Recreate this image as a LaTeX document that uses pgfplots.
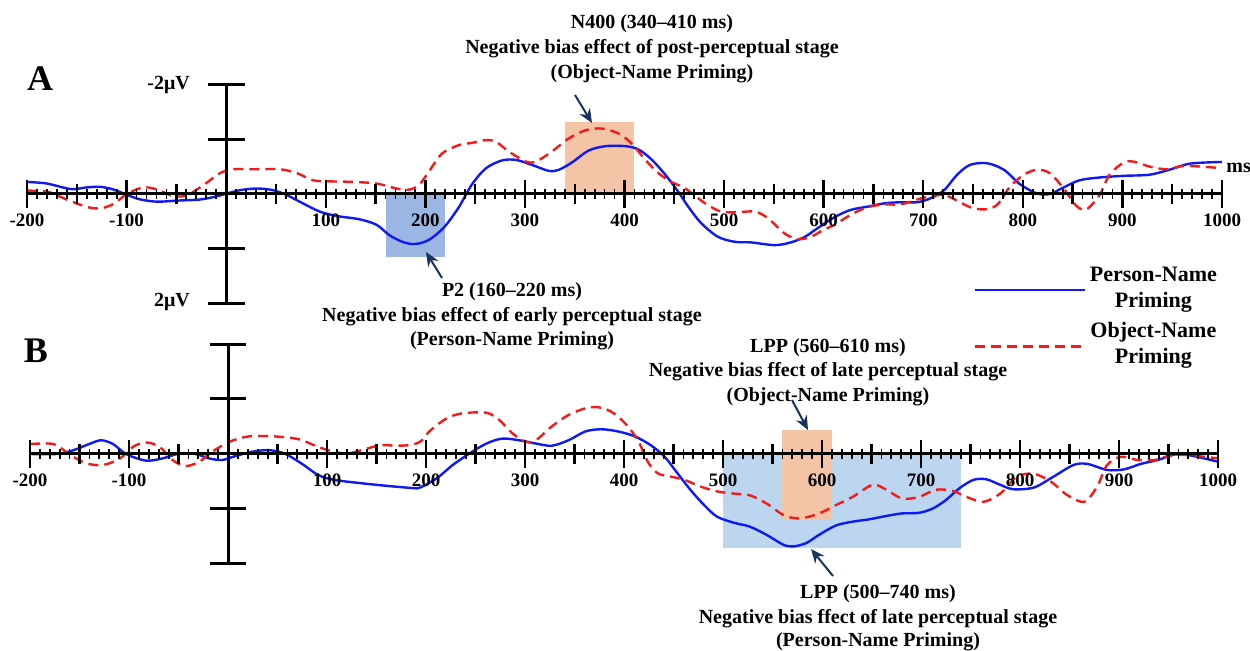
\documentclass[border=0pt]{standalone}
\usepackage{fontspec}
\setmainfont{Liberation Serif}
\usepackage{pgfplots}
\pgfplotsset{compat=1.18}
\usetikzlibrary{arrows.meta}
\definecolor{erpBlue}{RGB}{15,25,245}
\definecolor{erpRed}{RGB}{245,25,25}
\definecolor{boxOrange}{RGB}{245,196,166}
\definecolor{boxBlueA}{RGB}{155,182,226}
\definecolor{boxBlueB}{RGB}{188,214,240}
\definecolor{arrowNavy}{RGB}{25,50,95}

\pgfplotsset{
  erp/.style={
    scale only axis, height=110pt,
    xmin=-200, xmax=1000, ymin=-2, ymax=2, y dir=reverse,
    axis lines=middle, axis line style={-, line width=1.5pt},
    enlargelimits=false, clip=false, axis on top,
    xtick={-200,-100,100,200,300,400,500,600,700,800,900,1000},
    minor xtick={-200,-190,...,1000},
    extra x ticks={-150,-50,50,150,250,350,450,550,650,750,850,950},
    extra x tick labels={},
    extra x tick style={major tick length=10pt},
    ytick=\empty,
    tick align=center,
    major tick length=14pt, minor tick length=5pt,
    tick style={black, line width=1.2pt},
    minor tick style={line width=0.9pt},
    xticklabel style={font=\fontsize{9.5}{11}\selectfont\bfseries, yshift=0.5pt},
    /pgf/number format/assume math mode=true,
    /pgf/number format/1000 sep={},
  },
  person/.style={erpBlue, line width=1.2pt, smooth},
  object/.style={erpRed, line width=1.2pt, smooth, dash pattern=on 5pt off 3pt},
}

\begin{document}
\begin{tikzpicture}

% panel A
\begin{axis}[erp, at={(13.5pt,-152pt)}, anchor=south west, width=597.5pt,
  legend style={draw=none, fill=none, at={(axis cs:744,1.1)}, anchor=north west,
    font=\fontsize{11}{13}\selectfont\bfseries, row sep=7pt},
  legend cell align=center,
  legend image code/.code={\draw[#1] (0pt,-5pt) -- (55pt,-5pt);},
]
  \fill[boxBlueA] (axis cs:160,0) rectangle (axis cs:220,1.15);
  \fill[boxOrange] (axis cs:340,-1.31) rectangle (axis cs:410,0);
  \draw[line width=1.5pt] (axis cs:-18.5,-2) -- (axis cs:18.5,-2);
  \draw[line width=1.5pt] (axis cs:-18.5,-1) -- (axis cs:18.5,-1);
  \draw[line width=1.5pt] (axis cs:-18.5,1) -- (axis cs:18.5,1);
  \draw[line width=1.5pt] (axis cs:-18.5,2) -- (axis cs:18.5,2);
  \addplot[person] coordinates {
    (-200,-0.22) (-180,-0.19) (-156,-0.09) (-140,-0.12) (-126,-0.13) (-113,-0.08)
    (-99,0.02) (-86,0.10) (-69,0.14) (-49,0.12) (-26,0.10) (-9,0.04) (1,-0.01)
    (14,-0.07) (31,-0.10) (47,-0.07) (61,0.02) (77,0.17) (94,0.32) (111,0.40)
    (134,0.46) (151,0.56) (164,0.75) (177,0.87) (187,0.91) (196,0.89) (204,0.83)
    (212,0.72) (221,0.56) (234,0.23) (247,-0.18) (261,-0.47) (277,-0.61)
    (291,-0.62) (307,-0.53) (324,-0.42) (334,-0.44) (347,-0.57) (364,-0.79)
    (381,-0.87) (401,-0.87) (414,-0.81) (427,-0.63) (441,-0.35) (454,-0.04)
    (464,0.23) (477,0.53) (494,0.78) (511,0.87) (527,0.88) (551,0.93) (567,0.88)
    (581,0.78) (594,0.62) (611,0.42) (627,0.29) (644,0.23) (661,0.17) (677,0.15)
    (694,0.15) (707,0.08) (721,-0.07) (734,-0.35) (747,-0.53) (764,-0.56)
    (781,-0.44) (797,-0.18) (814,-0.01) (827,0.00) (841,-0.12) (857,-0.25)
    (877,-0.30) (901,-0.33) (927,-0.35) (947,-0.44) (967,-0.55) (994,-0.58)
    (1000,-0.58)
  };
  \addlegendentry{\begin{tabular}{@{}c@{}}Person-Name\\Priming\end{tabular}}
  \addplot[object] coordinates {
    (-200,-0.06) (-179,-0.04) (-159,0.11) (-139,0.24) (-126,0.26) (-113,0.18)
    (-99,-0.01) (-83,-0.12) (-69,-0.08) (-53,0.04) (-39,0.02) (-23,-0.16)
    (-6,-0.38) (7,-0.45) (27,-0.45) (54,-0.45) (71,-0.38) (87,-0.25) (104,-0.23)
    (127,-0.22) (151,-0.19) (171,-0.10) (184,-0.08) (194,-0.17) (204,-0.42)
    (217,-0.74) (234,-0.89) (247,-0.93) (261,-0.98) (271,-0.95) (284,-0.77)
    (301,-0.59) (311,-0.59) (327,-0.77) (344,-1.01) (361,-1.16) (377,-1.19)
    (394,-1.10) (407,-0.92) (421,-0.62) (434,-0.38) (447,-0.22) (461,-0.10)
    (481,0.17) (497,0.32) (514,0.33) (531,0.32) (544,0.44) (561,0.72) (574,0.82)
    (587,0.78) (601,0.64) (611,0.56) (627,0.38) (644,0.24) (661,0.19) (677,0.19)
    (694,0.10) (707,0.04) (721,0.02) (734,0.12) (747,0.24) (761,0.28) (774,0.20)
    (787,-0.13) (801,-0.35) (814,-0.44) (827,-0.38) (841,-0.10) (854,0.22)
    (864,0.28) (877,0.02) (887,-0.35) (901,-0.57) (911,-0.59) (927,-0.50)
    (944,-0.45) (961,-0.51) (977,-0.50) (1000,-0.47)
  };
  \addlegendentry{\begin{tabular}{@{}c@{}}Object-Name\\Priming\end{tabular}}
\end{axis}

% panel B
\begin{axis}[erp, at={(15pt,-282pt)}, anchor=south west, width=594pt]
  \fill[boxBlueB] (axis cs:500,0) rectangle (axis cs:740,1.71);
  \fill[boxOrange] (axis cs:560,-0.44) rectangle (axis cs:610,1.2);
  \draw[line width=1.5pt] (axis cs:-18.5,-2) -- (axis cs:18.5,-2);
  \draw[line width=1.5pt] (axis cs:-18.5,-1) -- (axis cs:18.5,-1);
  \draw[line width=1.5pt] (axis cs:-18.5,1) -- (axis cs:18.5,1);
  \draw[line width=1.5pt] (axis cs:-18.5,2) -- (axis cs:18.5,2);
  \addplot[person] coordinates {
    (-200,0.00) (-173,0.00) (-156,-0.07) (-139,-0.19) (-128,-0.25) (-116,-0.18)
    (-103,0.00) (-83,0.12) (-66,0.08) (-49,-0.01) (-33,0.00) (-19,0.08) (-6,0.11)
    (7,0.04) (24,-0.04) (41,-0.07) (57,-0.01) (74,0.17) (91,0.38) (107,0.47)
    (134,0.53) (161,0.58) (187,0.62) (194,0.61) (211,0.44) (227,0.20) (244,-0.01)
    (261,-0.19) (277,-0.28) (294,-0.25) (311,-0.19) (327,-0.15) (344,-0.25)
    (361,-0.41) (377,-0.45) (394,-0.41) (411,-0.32) (427,-0.16) (441,0.05)
    (454,0.35) (467,0.65) (481,0.93) (494,1.14) (511,1.25) (527,1.32) (544,1.47)
    (561,1.65) (571,1.68) (584,1.62) (597,1.47) (614,1.30) (631,1.23) (647,1.19)
    (664,1.13) (681,1.08) (698,1.07) (712,0.99) (725,0.84) (739,0.62) (753,0.47)
    (766,0.46) (780,0.56) (793,0.64) (814,0.61) (834,0.41) (854,0.20) (868,0.18)
    (888,0.29) (905,0.28) (922,0.18) (939,0.11) (956,0.01) (970,0.02) (986,0.08)
    (1000,0.14)
  };
  \addplot[object] coordinates {
    (-200,-0.18) (-176,-0.18) (-159,0.02) (-143,0.17) (-126,0.20) (-109,0.08)
    (-96,-0.13) (-83,-0.21) (-69,-0.13) (-56,0.11) (-43,0.22) (-29,0.14)
    (-16,-0.04) (1,-0.22) (21,-0.32) (47,-0.32) (71,-0.27) (91,-0.13) (107,-0.04)
    (121,-0.01) (137,-0.08) (154,-0.16) (171,-0.15) (187,-0.17) (196,-0.25)
    (204,-0.42) (221,-0.65) (237,-0.74) (261,-0.75) (274,-0.62) (287,-0.38)
    (301,-0.22) (311,-0.25) (327,-0.50) (344,-0.71) (361,-0.83) (374,-0.85)
    (387,-0.77) (401,-0.56) (414,-0.25) (424,0.14) (434,0.35) (447,0.41)
    (461,0.47) (477,0.59) (494,0.68) (511,0.72) (527,0.75) (544,0.90) (561,1.11)
    (574,1.17) (587,1.14) (601,1.05) (614,0.93) (631,0.78) (651,0.56) (664,0.64)
    (681,0.81) (698,0.78) (715,0.65) (732,0.67) (746,0.78) (763,0.87) (780,0.72)
    (797,0.41) (814,0.36) (831,0.50) (848,0.75) (865,0.87) (878,0.59) (888,0.20)
    (902,0.05) (919,0.11) (936,0.11) (953,0.02) (970,0.02) (986,0.05) (1000,0.08)
  };
\end{axis}

% annotations, in pixel units of the reference
\begin{scope}[x=0.5pt,y=-0.5pt, font=\fontsize{10}{12.5}\selectfont\bfseries]
  \node[font=\fontsize{18}{18}\selectfont\bfseries] at (40,79) {A};
  \node[font=\fontsize{18}{18}\selectfont\bfseries] at (36,351) {B};
  \node[anchor=east] at (197,85) {-2μV};
  \node[anchor=east] at (197,302) {2μV};
  \node[anchor=west, inner sep=0pt] at (1226,168) {ms};

  \node at (652,24) {N400 (340–410 ms)};
  \node at (652,49) {Negative bias effect of post-perceptual stage};
  \node at (652,74) {(Object-Name Priming)};

  \node at (512,292) {P2 (160–220 ms)};
  \node at (512,317) {Negative bias effect of early perceptual stage};
  \node at (512,341) {(Person-Name Priming)};

  \node at (828,348) {LPP (560–610 ms)};
  \node at (828,372) {Negative bias ffect of late perceptual stage};
  \node at (828,397) {(Object-Name Priming)};

  \node at (878,594) {LPP (500–740 ms)};
  \node at (878,619) {Negative bias ffect of late perceptual stage};
  \node at (878,642) {(Person-Name Priming)};

  \begin{scope}[arrowNavy, line width=1pt, -{Stealth[length=7pt,width=6pt]}]
    \draw (575,95) -- (592,123);
    \draw (442,278) -- (426,252);
    \draw (792,400) -- (808,430);
    \draw (833,576) -- (811,549);
  \end{scope}
\end{scope}

% page = the reference's frame
\pgfresetboundingbox
\path[use as bounding box] (0pt,0pt) rectangle (625pt,-325.5pt);
\end{tikzpicture}
\end{document}
